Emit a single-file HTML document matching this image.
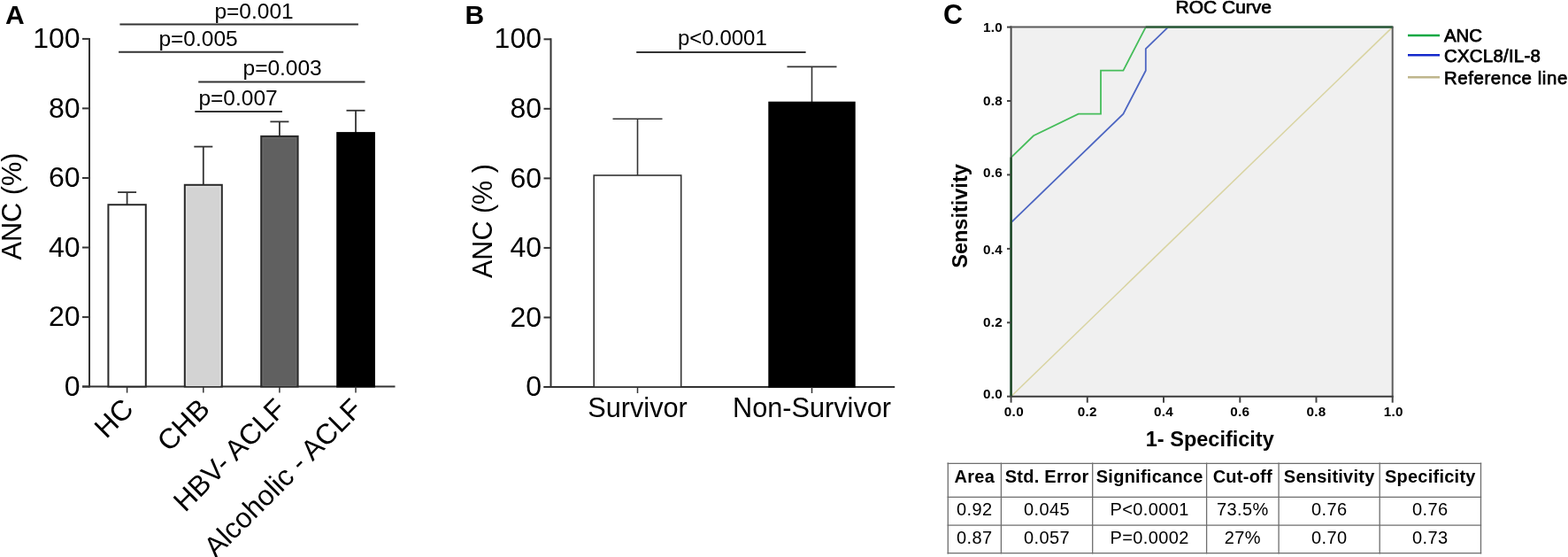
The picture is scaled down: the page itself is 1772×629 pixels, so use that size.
<!DOCTYPE html>
<html><head><meta charset="utf-8"><title>ANC figure</title>
<style>html,body{margin:0;padding:0;background:#fff;} svg{display:block;} text{font-family:"Liberation Sans", Arial, sans-serif;fill:#000;}</style>
</head><body>
<svg width="1772" height="629" viewBox="0 0 1772 629">
<rect width="1772" height="629" fill="#fff"/>
<text x="6" y="27" font-size="30" font-weight="bold">A</text>
<line x1="101.0" y1="42.9" x2="101.0" y2="437.6" stroke="#333" stroke-width="2"/>
<line x1="93" y1="436.6" x2="101.0" y2="436.6" stroke="#333" stroke-width="2"/>
<text x="90.6" y="446.7" font-size="32" text-anchor="end">0</text>
<line x1="93" y1="358.1" x2="101.0" y2="358.1" stroke="#333" stroke-width="2"/>
<text x="90.6" y="368.2" font-size="32" text-anchor="end">20</text>
<line x1="93" y1="279.5" x2="101.0" y2="279.5" stroke="#333" stroke-width="2"/>
<text x="90.6" y="289.6" font-size="32" text-anchor="end">40</text>
<line x1="93" y1="201.0" x2="101.0" y2="201.0" stroke="#333" stroke-width="2"/>
<text x="90.6" y="211.1" font-size="32" text-anchor="end">60</text>
<line x1="93" y1="122.4" x2="101.0" y2="122.4" stroke="#333" stroke-width="2"/>
<text x="90.6" y="132.5" font-size="32" text-anchor="end">80</text>
<line x1="93" y1="43.9" x2="101.0" y2="43.9" stroke="#333" stroke-width="2"/>
<text x="90.6" y="54.0" font-size="32" text-anchor="end">100</text>
<line x1="93" y1="436.6" x2="446.5" y2="436.6" stroke="#333" stroke-width="2"/>
<line x1="143.6" y1="231.2" x2="143.6" y2="217.1" stroke="#333" stroke-width="1.8"/>
<line x1="133.1" y1="217.1" x2="154.1" y2="217.1" stroke="#333" stroke-width="1.8"/>
<rect x="122.4" y="231.2" width="42.4" height="205.4" fill="#ffffff" stroke="#2a2a2a" stroke-width="2"/>
<line x1="143.6" y1="436.6" x2="143.6" y2="443.6" stroke="#333" stroke-width="1.5"/>
<text transform="translate(152.6,463.6) rotate(-45)" font-size="32" text-anchor="end">HC</text>
<line x1="229.8" y1="208.8" x2="229.8" y2="165.6" stroke="#333" stroke-width="1.8"/>
<line x1="219.3" y1="165.6" x2="240.3" y2="165.6" stroke="#333" stroke-width="1.8"/>
<rect x="208.8" y="208.8" width="42.0" height="227.8" fill="#d3d3d3" stroke="#2a2a2a" stroke-width="2"/>
<rect x="210.8" y="210.8" width="38.0" height="224.8" fill="none" stroke="#e4e4e4" stroke-width="1"/>
<line x1="229.8" y1="436.6" x2="229.8" y2="443.6" stroke="#333" stroke-width="1.5"/>
<text transform="translate(238.8,463.6) rotate(-45)" font-size="32" text-anchor="end">CHB</text>
<line x1="315.9" y1="153.9" x2="315.9" y2="137.4" stroke="#333" stroke-width="1.8"/>
<line x1="305.4" y1="137.4" x2="326.4" y2="137.4" stroke="#333" stroke-width="1.8"/>
<rect x="295.2" y="153.9" width="41.4" height="282.7" fill="#606060" stroke="#2a2a2a" stroke-width="2"/>
<rect x="297.2" y="155.9" width="37.4" height="279.7" fill="none" stroke="#6c6c6c" stroke-width="1"/>
<line x1="315.9" y1="436.6" x2="315.9" y2="443.6" stroke="#333" stroke-width="1.5"/>
<text transform="translate(324.9,463.6) rotate(-45)" font-size="32" text-anchor="end">HBV- ACLF</text>
<line x1="402.0" y1="150.1" x2="402.0" y2="124.8" stroke="#333" stroke-width="1.8"/>
<line x1="391.5" y1="124.8" x2="412.5" y2="124.8" stroke="#333" stroke-width="1.8"/>
<rect x="381.2" y="150.1" width="41.7" height="286.5" fill="#000000" stroke="#000" stroke-width="2"/>
<line x1="402.0" y1="436.6" x2="402.0" y2="443.6" stroke="#333" stroke-width="1.5"/>
<text transform="translate(411.0,463.6) rotate(-45)" font-size="32" text-anchor="end">Alcoholic - ACLF</text>
<line x1="135.4" y1="27.6" x2="404.9" y2="27.6" stroke="#333" stroke-width="2"/>
<text x="242.4" y="20.6" font-size="24.5">p=0.001</text>
<line x1="134.1" y1="58.7" x2="320.3" y2="58.7" stroke="#333" stroke-width="2"/>
<text x="179.4" y="51.7" font-size="24.5">p=0.005</text>
<line x1="224.2" y1="92.4" x2="412.5" y2="92.4" stroke="#333" stroke-width="2"/>
<text x="274.5" y="85.4" font-size="24.5">p=0.003</text>
<line x1="220.3" y1="126.0" x2="318.9" y2="126.0" stroke="#333" stroke-width="2"/>
<text x="224.4" y="119.0" font-size="24.5">p=0.007</text>
<text transform="translate(23.5,233) rotate(-90)" font-size="30.7" text-anchor="middle">ANC (%)</text>
<text x="525.5" y="27" font-size="30" font-weight="bold">B</text>
<line x1="622.5" y1="43.3" x2="622.5" y2="438.0" stroke="#333" stroke-width="2"/>
<line x1="614.5" y1="437.0" x2="622.5" y2="437.0" stroke="#333" stroke-width="2"/>
<text x="612" y="447.1" font-size="32" text-anchor="end">0</text>
<line x1="614.5" y1="358.5" x2="622.5" y2="358.5" stroke="#333" stroke-width="2"/>
<text x="612" y="368.6" font-size="32" text-anchor="end">20</text>
<line x1="614.5" y1="279.9" x2="622.5" y2="279.9" stroke="#333" stroke-width="2"/>
<text x="612" y="290.0" font-size="32" text-anchor="end">40</text>
<line x1="614.5" y1="201.4" x2="622.5" y2="201.4" stroke="#333" stroke-width="2"/>
<text x="612" y="211.5" font-size="32" text-anchor="end">60</text>
<line x1="614.5" y1="122.8" x2="622.5" y2="122.8" stroke="#333" stroke-width="2"/>
<text x="612" y="132.9" font-size="32" text-anchor="end">80</text>
<line x1="614.5" y1="44.3" x2="622.5" y2="44.3" stroke="#333" stroke-width="2"/>
<text x="612" y="54.4" font-size="32" text-anchor="end">100</text>
<line x1="614.5" y1="437.0" x2="1011.2" y2="437.0" stroke="#333" stroke-width="2"/>
<line x1="720.5" y1="198.0" x2="720.5" y2="134.2" stroke="#333" stroke-width="1.6"/>
<line x1="692.5" y1="134.2" x2="748.5" y2="134.2" stroke="#333" stroke-width="1.6"/>
<rect x="671.2" y="198.0" width="98.5" height="239.0" fill="#ffffff" stroke="#333" stroke-width="1.6"/>
<line x1="720.5" y1="437.0" x2="720.5" y2="444.0" stroke="#333" stroke-width="1.5"/>
<text x="720.5" y="470.7" font-size="30.7" text-anchor="middle">Survivor</text>
<line x1="917.5" y1="115.5" x2="917.5" y2="75.4" stroke="#333" stroke-width="1.6"/>
<line x1="889.5" y1="75.4" x2="945.5" y2="75.4" stroke="#333" stroke-width="1.6"/>
<rect x="869.1" y="115.5" width="96.8" height="321.5" fill="#000000" stroke="#000" stroke-width="1.6"/>
<line x1="917.5" y1="437.0" x2="917.5" y2="444.0" stroke="#333" stroke-width="1.5"/>
<text x="917.5" y="470.7" font-size="30.7" text-anchor="middle">Non-Survivor</text>
<line x1="719.2" y1="59.1" x2="910.6" y2="59.1" stroke="#333" stroke-width="2"/>
<text x="766" y="50.5" font-size="24">p&lt;0.0001</text>
<text transform="translate(555.5,249.6) rotate(-90)" font-size="30.5" text-anchor="middle">ANC (% )</text>
<text x="1066" y="27.3" font-size="30.5" font-weight="bold">C</text>
<text x="1328.5" y="14.6" font-size="21" stroke="#000" stroke-width="0.7">ROC Curve</text>
<rect x="1142.6" y="30.6" width="431.1" height="417.1" fill="#f0f0f0"/>
<line x1="1142.6" y1="447.7" x2="1573.7" y2="30.6" stroke="#d9d4a2" stroke-width="1.6"/>
<polyline points="1142.6,447.7 1142.6,251.4 1269.4,128.7 1294.8,79.7 1294.8,55.1 1320.1,30.6 1573.7,30.6" fill="none" stroke="#4d66c2" stroke-width="1.8"/>
<polyline points="1142.6,447.7 1142.6,177.8 1168.0,153.3 1218.7,128.7 1244.0,128.7 1244.0,79.7 1269.4,79.7 1294.8,30.6 1573.7,30.6" fill="none" stroke="#45bd5a" stroke-width="1.8"/>
<line x1="1573.7" y1="30.6" x2="1573.7" y2="447.7" stroke="#5e5e5e" stroke-width="2"/>
<line x1="1141.7" y1="447.7" x2="1574.7" y2="447.7" stroke="#3a3a3a" stroke-width="2"/>
<line x1="1142.6" y1="29.6" x2="1142.6" y2="447.7" stroke="#484848" stroke-width="2"/>
<line x1="1141.6" y1="30.6" x2="1574.7" y2="30.6" stroke="#5a5a5a" stroke-width="2"/>
<line x1="1142.6" y1="447.7" x2="1142.6" y2="177.8" stroke="#1a4622" stroke-width="2"/>
<line x1="1294.8" y1="30.6" x2="1573.7" y2="30.6" stroke="#2b5b37" stroke-width="2"/>
<line x1="1138" y1="447.7" x2="1142.6" y2="447.7" stroke="#444" stroke-width="2"/>
<text x="1133.2" y="450.2" font-size="15.3" font-weight="bold" text-anchor="end" letter-spacing="0.3">0.0</text>
<line x1="1142.6" y1="447.7" x2="1142.6" y2="454.7" stroke="#444" stroke-width="2"/>
<text x="1145.9" y="470.4" font-size="15.3" font-weight="bold" text-anchor="middle" letter-spacing="0.3">0.0</text>
<line x1="1138" y1="364.3" x2="1142.6" y2="364.3" stroke="#444" stroke-width="2"/>
<text x="1133.2" y="368.9" font-size="15.3" font-weight="bold" text-anchor="end" letter-spacing="0.3">0.2</text>
<line x1="1228.8" y1="447.7" x2="1228.8" y2="454.7" stroke="#444" stroke-width="2"/>
<text x="1228.8" y="470.4" font-size="15.3" font-weight="bold" text-anchor="middle" letter-spacing="0.3">0.2</text>
<line x1="1138" y1="280.9" x2="1142.6" y2="280.9" stroke="#444" stroke-width="2"/>
<text x="1133.2" y="287.4" font-size="15.3" font-weight="bold" text-anchor="end" letter-spacing="0.3">0.4</text>
<line x1="1315.0" y1="447.7" x2="1315.0" y2="454.7" stroke="#444" stroke-width="2"/>
<text x="1315.0" y="470.4" font-size="15.3" font-weight="bold" text-anchor="middle" letter-spacing="0.3">0.4</text>
<line x1="1138" y1="197.4" x2="1142.6" y2="197.4" stroke="#444" stroke-width="2"/>
<text x="1133.2" y="200.0" font-size="15.3" font-weight="bold" text-anchor="end" letter-spacing="0.3">0.6</text>
<line x1="1401.3" y1="447.7" x2="1401.3" y2="454.7" stroke="#444" stroke-width="2"/>
<text x="1401.3" y="470.4" font-size="15.3" font-weight="bold" text-anchor="middle" letter-spacing="0.3">0.6</text>
<line x1="1138" y1="114.0" x2="1142.6" y2="114.0" stroke="#444" stroke-width="2"/>
<text x="1133.2" y="119.0" font-size="15.3" font-weight="bold" text-anchor="end" letter-spacing="0.3">0.8</text>
<line x1="1487.5" y1="447.7" x2="1487.5" y2="454.7" stroke="#444" stroke-width="2"/>
<text x="1487.5" y="470.4" font-size="15.3" font-weight="bold" text-anchor="middle" letter-spacing="0.3">0.8</text>
<line x1="1138" y1="30.6" x2="1142.6" y2="30.6" stroke="#444" stroke-width="2"/>
<text x="1133.2" y="36.1" font-size="15.3" font-weight="bold" text-anchor="end" letter-spacing="0.3">1.0</text>
<line x1="1573.7" y1="447.7" x2="1573.7" y2="454.7" stroke="#444" stroke-width="2"/>
<text x="1574.8" y="470.4" font-size="15.3" font-weight="bold" text-anchor="middle" letter-spacing="0.3">1.0</text>
<text x="1367.3" y="503.6" font-size="23.5" font-weight="bold" text-anchor="middle">1- Specificity</text>
<text transform="translate(1093,244) rotate(-90)" font-size="23.5" font-weight="bold" text-anchor="middle">Sensitivity</text>
<line x1="1591" y1="40" x2="1627" y2="40" stroke="#0ba843" stroke-width="2.6"/>
<text x="1632" y="46.7" font-size="20.4" stroke="#000" stroke-width="0.75" letter-spacing="0">ANC</text>
<line x1="1591" y1="62.3" x2="1627" y2="62.3" stroke="#1428cc" stroke-width="2.6"/>
<text x="1632" y="70.0" font-size="20.4" stroke="#000" stroke-width="0.75" letter-spacing="0.25">CXCL8/IL-8</text>
<line x1="1591" y1="87.3" x2="1627" y2="87.3" stroke="#bfb68c" stroke-width="2.6"/>
<text x="1632" y="94.9" font-size="20.4" stroke="#000" stroke-width="0.75" letter-spacing="0.6">Reference line</text>
<line x1="1071.3" y1="522.6" x2="1071.3" y2="625.4" stroke="#6e6e6e" stroke-width="1.3"/>
<line x1="1131.4" y1="522.6" x2="1131.4" y2="625.4" stroke="#6e6e6e" stroke-width="1.3"/>
<line x1="1234.7" y1="522.6" x2="1234.7" y2="625.4" stroke="#6e6e6e" stroke-width="1.3"/>
<line x1="1363.6" y1="522.6" x2="1363.6" y2="625.4" stroke="#6e6e6e" stroke-width="1.3"/>
<line x1="1445.1" y1="522.6" x2="1445.1" y2="625.4" stroke="#6e6e6e" stroke-width="1.3"/>
<line x1="1559.2" y1="522.6" x2="1559.2" y2="625.4" stroke="#6e6e6e" stroke-width="1.3"/>
<line x1="1673.5" y1="522.6" x2="1673.5" y2="625.4" stroke="#6e6e6e" stroke-width="1.3"/>
<line x1="1070.6" y1="523.3" x2="1674.2" y2="523.3" stroke="#6e6e6e" stroke-width="1.3"/>
<line x1="1070.6" y1="561.3" x2="1674.2" y2="561.3" stroke="#6e6e6e" stroke-width="1.3"/>
<line x1="1070.6" y1="593.1" x2="1674.2" y2="593.1" stroke="#6e6e6e" stroke-width="1.3"/>
<line x1="1070.6" y1="624.7" x2="1674.2" y2="624.7" stroke="#6e6e6e" stroke-width="1.3"/>
<text x="1101.3" y="544.5" font-size="20" font-weight="bold" text-anchor="middle" letter-spacing="0.25">Area</text>
<text x="1101.3" y="582.3" font-size="20" text-anchor="middle" letter-spacing="0.4">0.92</text>
<text x="1101.3" y="613.8" font-size="20" text-anchor="middle" letter-spacing="0.4">0.87</text>
<text x="1183.1" y="544.5" font-size="20" font-weight="bold" text-anchor="middle" letter-spacing="0.25">Std. Error</text>
<text x="1183.1" y="582.3" font-size="20" text-anchor="middle" letter-spacing="0.4">0.045</text>
<text x="1183.1" y="613.8" font-size="20" text-anchor="middle" letter-spacing="0.4">0.057</text>
<text x="1299.2" y="544.5" font-size="20" font-weight="bold" text-anchor="middle" letter-spacing="0.25">Significance</text>
<text x="1299.2" y="582.3" font-size="20" text-anchor="middle" letter-spacing="0.4">P&lt;0.0001</text>
<text x="1299.2" y="613.8" font-size="20" text-anchor="middle" letter-spacing="0.4">P=0.0002</text>
<text x="1404.3" y="544.5" font-size="20" font-weight="bold" text-anchor="middle" letter-spacing="0.25">Cut-off</text>
<text x="1404.3" y="582.3" font-size="20" text-anchor="middle" letter-spacing="0.4">73.5%</text>
<text x="1404.3" y="613.8" font-size="20" text-anchor="middle" letter-spacing="0.4">27%</text>
<text x="1502.2" y="544.5" font-size="20" font-weight="bold" text-anchor="middle" letter-spacing="0.25">Sensitivity</text>
<text x="1502.2" y="582.3" font-size="20" text-anchor="middle" letter-spacing="0.4">0.76</text>
<text x="1502.2" y="613.8" font-size="20" text-anchor="middle" letter-spacing="0.4">0.70</text>
<text x="1616.3" y="544.5" font-size="20" font-weight="bold" text-anchor="middle" letter-spacing="0.25">Specificity</text>
<text x="1616.3" y="582.3" font-size="20" text-anchor="middle" letter-spacing="0.4">0.76</text>
<text x="1616.3" y="613.8" font-size="20" text-anchor="middle" letter-spacing="0.4">0.73</text>
</svg>
</body></html>
